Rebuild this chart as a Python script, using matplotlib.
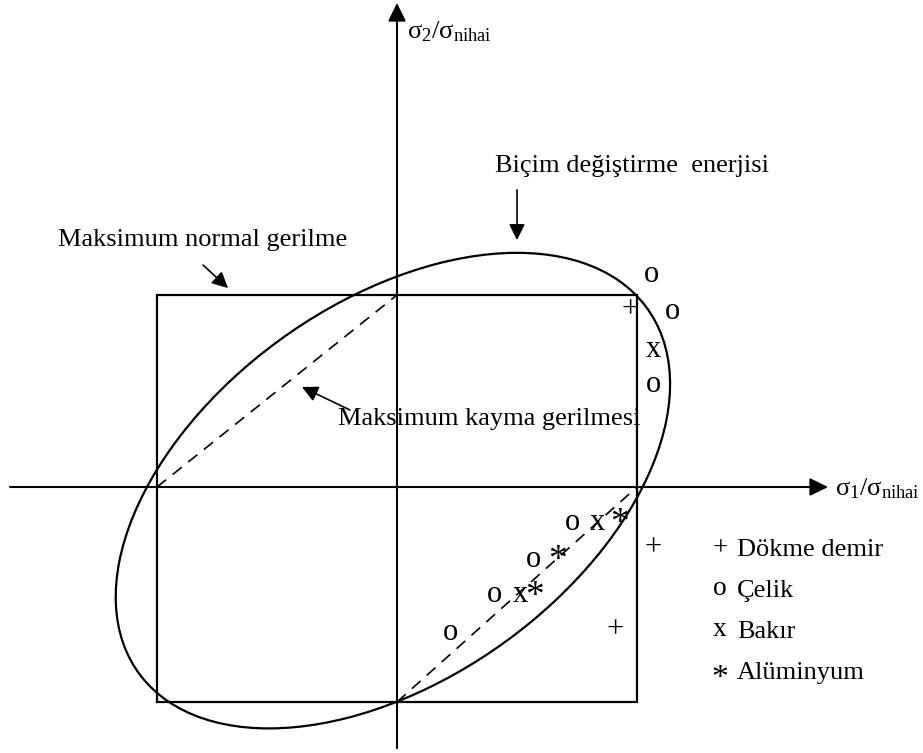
import matplotlib
matplotlib.use("Agg")
import matplotlib.pyplot as plt
from matplotlib.patches import Ellipse, ArrowStyle

plt.rcParams['font.family'] = ['Liberation Serif', 'DejaVu Serif']
plt.rcParams['mathtext.fontset'] = 'custom'
plt.rcParams['mathtext.rm'] = 'Liberation Serif'
plt.rcParams['mathtext.it'] = 'Liberation Serif:italic'

# Maximum normal stress boundary (square), in sigma/sigma_ult units
square_s1 = [-1.0, 1.0, 1.0, -1.0, -1.0]
square_s2 = [-1.12, -1.12, 1.0, 1.0, -1.12]

# Maximum shear stress boundary (dashed diagonals)
shear_upper_s1 = [-1.0, 0.0]
shear_upper_s2 = [0.0, 1.0]
shear_lower_s1 = [0.0, 1.0]
shear_lower_s2 = [-1.12, 0.0]

# Distortion energy ellipse: centre, semi-axes, tilt (deg)
ellipse_center = (-0.0171, -0.0189)
ellipse_semi_major = 1.4429
ellipse_semi_minor = 0.8864
ellipse_tilt = 49.44

# Test results per material
dokme_s1 = [0.971, 1.067, 0.908]
dokme_s2 = [0.922, -0.318, -0.745]
celik_s1 = [1.0625, 1.146, 1.067, 0.733, 0.567, 0.408, 0.221]
celik_s2 = [1.104, 0.911, 0.531, -0.1875, -0.380, -0.5625, -0.760]
bakir_s1 = [1.067, 0.833, 0.5125]
bakir_s2 = [0.714, -0.1875, -0.5625]
alum_s1 = [0.929, 0.667, 0.575]
alum_s2 = [-0.146, -0.339, -0.526]

materials = ['Dökme demir', 'Çelik', 'Bakır', 'Alüminyum']
symbols = ['+', 'o', 'x', '*']

FS = 19
SYM_FS = {'+': 22, 'o': 22, 'x': 22, '*': 27}
# baseline drop (in em) so each glyph is centred on its point
glyph_lift = {'+': 0.25, 'o': 0.23, 'x': 0.23, '*': 0.47}


def put_symbol(ax, ch, x, y, scale=1.0):
    fs = SYM_FS[ch] * scale
    ax.annotate(ch, (x, y), xytext=(0, -glyph_lift[ch] * fs),
                textcoords='offset points', ha='center', va='baseline',
                fontsize=fs, color='black')


fig = plt.figure(figsize=(9.23, 7.53), dpi=100)
ax = fig.add_axes([0, 0, 1, 1])
ax.set_xlim(-397 / 240, (923 - 397) / 240)
ax.set_ylim((487 - 753) / 192, 487 / 192)
ax.axis('off')

# coordinate axes with filled heads
axis_head = ArrowStyle('-|>', head_length=0.55, head_width=0.27)
ax.annotate('', xy=(1.796, 0.0), xytext=(-1.6125, 0.0),
            arrowprops=dict(arrowstyle=axis_head, color='black', lw=1.5,
                            shrinkA=0, shrinkB=0, mutation_scale=20))
ax.annotate('', xy=(0.0, 2.521), xytext=(0.0, -1.36),
            arrowprops=dict(arrowstyle=axis_head, color='black', lw=1.5,
                            shrinkA=0, shrinkB=0, mutation_scale=20))

ax.plot(square_s1, square_s2, color='black', lw=1.6, solid_joinstyle='miter')
ax.plot(shear_upper_s1, shear_upper_s2, color='black', lw=1.2, dashes=(7, 5))
ax.plot(shear_lower_s1, shear_lower_s2, color='black', lw=1.2, dashes=(7, 5))
ax.add_patch(Ellipse(ellipse_center, 2 * ellipse_semi_major, 2 * ellipse_semi_minor,
                     angle=ellipse_tilt, fill=False, edgecolor='black', lw=1.6))

for xs, ys, ch in [(dokme_s1, dokme_s2, '+'), (celik_s1, celik_s2, 'o'),
                   (bakir_s1, bakir_s2, 'x'), (alum_s1, alum_s2, '*')]:
    for x, y in zip(xs, ys):
        put_symbol(ax, ch, x, y)

# axis titles
ax.text(0.042, 2.339, r'$\mathrm{σ_2/σ_{nihai}}$', fontsize=FS, ha='left', va='baseline')
ax.text(1.825, -0.042, r'$\mathrm{σ_1/σ_{nihai}}$', fontsize=FS, ha='left', va='baseline')

# criterion labels with pointer arrows
small_head = ArrowStyle('-|>', head_length=0.6, head_width=0.3)
ax.text(0.408, 1.641, 'Biçim değiştirme  enerjisi', fontsize=FS, ha='left', va='baseline')
ax.annotate('', xy=(0.5, 1.286), xytext=(0.5, 1.547),
            arrowprops=dict(arrowstyle=small_head, color='black', lw=1.2,
                            shrinkA=0, shrinkB=0, mutation_scale=16))
ax.text(-1.4125, 1.255, 'Maksimum normal gerilme', fontsize=FS, ha='left', va='baseline')
ax.annotate('', xy=(-0.704, 1.036), xytext=(-0.808, 1.156),
            arrowprops=dict(arrowstyle=small_head, color='black', lw=1.2,
                            shrinkA=0, shrinkB=0, mutation_scale=16))
ax.text(-0.246, 0.323, 'Maksimum kayma gerilmesi', fontsize=FS, ha='left', va='baseline')
ax.annotate('', xy=(-0.396, 0.521), xytext=(-0.196, 0.401),
            arrowprops=dict(arrowstyle=small_head, color='black', lw=1.2,
                            shrinkA=0, shrinkB=0, mutation_scale=16))

# material key
key_rows = [-0.318, -0.531, -0.745, -0.958]
for name, ch, yr in zip(materials, symbols, key_rows):
    put_symbol(ax, ch, 1.346, yr, scale=0.9)
    ax.annotate(name, (1.417, yr), xytext=(0, -0.3 * FS), textcoords='offset points',
                ha='left', va='baseline', fontsize=FS)

fig.savefig("out.png", dpi=100)
